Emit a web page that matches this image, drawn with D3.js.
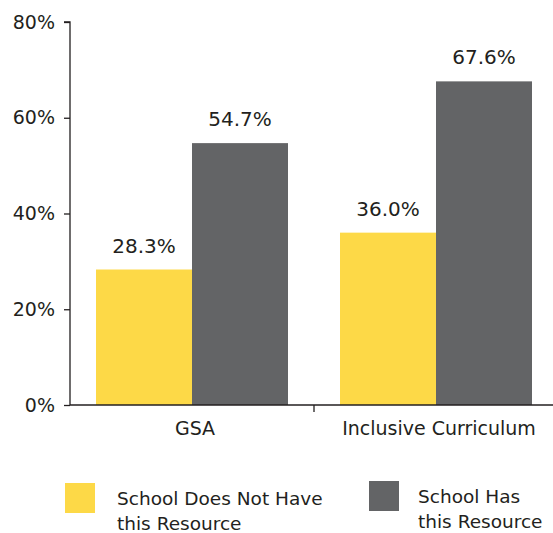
<!DOCTYPE html>
<html>
<head>
<meta charset="utf-8">
<script src="https://cdn.jsdelivr.net/npm/d3@7"></script>
<style>
  body { margin: 0; background: #fff; }
  svg { display: block; font-family: "DejaVu Sans", sans-serif; }
</style>
</head>
<body>
<svg id="chart" width="553" height="533"></svg>
<script>
// data
var categories = ["GSA", "Inclusive Curriculum"];
var seriesNames = ["School Does Not Have this Resource", "School Has this Resource"];
var notHave = [28.3, 36.0];
var has = [54.7, 67.6];
var yTicks = [0, 20, 40, 60, 80];

var colors = ["#fdd947", "#636466"];
var textColor = "#231f20";
var font = "DejaVu Sans";

var svg = d3.select("#chart");
var margin = { top: 22, left: 70, bottom: 128 };
var height = 533 - margin.top - margin.bottom;

var x0 = d3.scaleBand()
  .domain(categories)
  .range([margin.left, margin.left + 488]);

var x1 = d3.scaleBand()
  .domain([0, 1])
  .range([0, 192]);

var y = d3.scaleLinear()
  .domain([0, 80])
  .range([margin.top + height, margin.top]);

var rows = categories.map(function(c, i) {
  return { cat: c, values: [notHave[i], has[i]] };
});

// bars
var groups = svg.append("g").selectAll("g")
  .data(rows)
  .enter().append("g")
  .attr("transform", function(d) {
    return "translate(" + (x0(d.cat) + (x0.bandwidth() - 192) / 2) + ",0)";
  });

groups.selectAll("rect")
  .data(function(d) { return d.values.map(function(v, k) { return { k: k, v: v }; }); })
  .enter().append("rect")
  .attr("x", function(d) { return x1(d.k); })
  .attr("width", x1.bandwidth())
  .attr("y", function(d) { return y(d.v); })
  .attr("height", function(d) { return y(0) - y(d.v); })
  .attr("fill", function(d) { return colors[d.k]; });

groups.selectAll("text")
  .data(function(d) { return d.values.map(function(v, k) { return { k: k, v: v }; }); })
  .enter().append("text")
  .attr("x", function(d) { return x1(d.k) + x1.bandwidth() / 2; })
  .attr("y", function(d) { return y(d.v) - 17; })
  .attr("text-anchor", "middle")
  .attr("font-size", 20)
  .attr("fill", textColor)
  .text(function(d) { return d.v.toFixed(1) + "%"; });

// y axis
var yAxis = svg.append("g")
  .attr("transform", "translate(" + margin.left + ",0)")
  .call(d3.axisLeft(y).tickValues(yTicks).tickSize(6).tickPadding(9).tickFormat(function(d) { return d + "%"; }));
yAxis.attr("font-family", font).attr("font-size", 19);
yAxis.selectAll("text").attr("fill", textColor);
yAxis.selectAll("line, path").attr("stroke", textColor).attr("stroke-width", 1.3);
yAxis.select(".domain").attr("d", "M-6," + y(80) + "H0V" + y(0));

// x axis
var xAxis = svg.append("g")
  .attr("transform", "translate(0," + y(0) + ")")
  .call(d3.axisBottom(x0).tickSize(0).tickPadding(17));
xAxis.attr("font-family", font).attr("font-size", 19);
xAxis.selectAll("text").attr("fill", textColor).attr("dx", 3);
xAxis.select(".domain").attr("stroke", textColor).attr("stroke-width", 1.3)
  .attr("d", "M" + margin.left + ",0H553");
xAxis.append("line")
  .attr("x1", x0(categories[1])).attr("x2", x0(categories[1]))
  .attr("y1", 0).attr("y2", 7)
  .attr("stroke", textColor).attr("stroke-width", 1.3);

// legend
var legendPos = [{ x: 65, y: 483, tx: 52 }, { x: 369, y: 481, tx: 49 }];
var legend = svg.append("g").selectAll("g")
  .data(seriesNames)
  .enter().append("g")
  .attr("transform", function(d, i) { return "translate(" + legendPos[i].x + "," + legendPos[i].y + ")"; });

legend.append("rect")
  .attr("width", 30).attr("height", 30)
  .attr("fill", function(d, i) { return colors[i]; });

legend.append("text")
  .attr("font-size", 18.5)
  .attr("fill", textColor)
  .selectAll("tspan")
  .data(function(d, i) {
    var lines = i === 0 ? ["School Does Not Have", "this Resource"] : ["School Has", "this Resource"];
    return lines.map(function(t) { return { t: t, tx: legendPos[i].tx }; });
  })
  .enter().append("tspan")
  .attr("x", function(d) { return d.tx; })
  .attr("y", function(d, j) { return 22 + j * 25; })
  .text(function(d) { return d.t; });
</script>
</body>
</html>
